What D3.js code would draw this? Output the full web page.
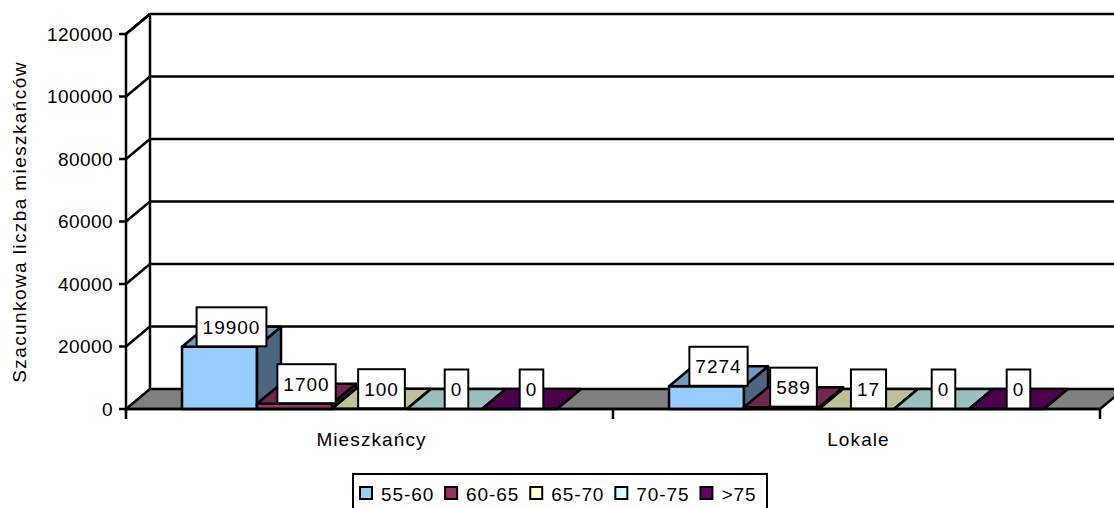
<!DOCTYPE html>
<html><head><meta charset="utf-8">
<script src="https://cdn.jsdelivr.net/npm/d3@7"></script>
<style>
html,body{margin:0;padding:0;background:#fff;}
svg{display:block;font-family:"Liberation Sans",Arial,sans-serif;}
</style></head>
<body><svg id="c" width="1114" height="508"></svg>
<script>
const categories = ["Mieszkańcy", "Lokale"];
const seriesNames = ["55-60", "60-65", "65-70", "70-75", ">75"];
const seriesColors = ["#99CCFF", "#993366", "#FFFFCC", "#CCFFFF", "#660066"];
const valuesMieszkancy = [19900, 1700, 100, 0, 0];
const valuesLokale = [7274, 589, 17, 0, 0];
const yTicks = [0, 20000, 40000, 60000, 80000, 100000, 120000];
const yTitle = "Szacunkowa liczba mieszkańców";

const values = [valuesMieszkancy, valuesLokale];
const svg = d3.select("#c");
const DX = 24, DY = -20;
const FS = 19;
const y = d3.scaleLinear().domain([0, 120000]).range([409, 34]);
const x = d3.scaleBand().domain(categories).range([126, 1100]).paddingInner(0).paddingOuter(0);
const xs = d3.scaleBand().domain(seriesNames).range([0, x.bandwidth()]).paddingInner(0).paddingOuter(0.747);
const y0 = y(0);
const SW = 2.5;

function shade(c, k) { const r = d3.rgb(c); return d3.rgb(r.r * k, r.g * k, r.b * k).toString(); }

// back wall gridlines
const g = svg.append("g");
yTicks.forEach(v => {
  if (v === 0) return;
  g.append("line").attr("x1", 126 + DX).attr("x2", 1200).attr("y1", y(v) + DY).attr("y2", y(v) + DY)
    .attr("stroke", "#000").attr("stroke-width", SW);
  g.append("line").attr("x1", 126).attr("x2", 126 + DX).attr("y1", y(v)).attr("y2", y(v) + DY)
    .attr("stroke", "#000").attr("stroke-width", SW);
});
// back wall vertical
g.append("line").attr("x1", 126 + DX).attr("x2", 126 + DX).attr("y1", y(120000) + DY).attr("y2", y0 + DY)
  .attr("stroke", "#000").attr("stroke-width", SW);

// floor
const xEnd = x.range()[1];
g.append("polygon").attr("points", [[126, y0], [xEnd, y0], [xEnd + DX, y0 + DY], [126 + DX, y0 + DY]].map(p => p.join(",")).join(" "))
  .attr("fill", "#808080").attr("stroke", "#000").attr("stroke-width", SW).attr("stroke-linejoin", "round");

// bars
const bars = svg.append("g");
const labels = [];
categories.forEach((c, ci) => {
  seriesNames.forEach((s, si) => {
    const v = values[ci][si];
    const x0 = x(c) + xs(s), w = xs.bandwidth(), yt = y(v);
    const col = seriesColors[si];
    const bg = bars.append("g").attr("stroke", "#000").attr("stroke-width", SW).attr("stroke-linejoin", "round");
    if (y0 - yt > 0.5) {
      bg.append("rect").attr("x", x0).attr("y", yt).attr("width", w).attr("height", y0 - yt).attr("fill", col);
      bg.append("polygon").attr("points", [[x0 + w, yt], [x0 + w, y0], [x0 + w + DX, y0 + DY], [x0 + w + DX, yt + DY]].map(p => p.join(",")).join(" "))
        .attr("fill", shade(col, 0.5));
    }
    bg.append("polygon").attr("points", [[x0, yt], [x0 + w, yt], [x0 + w + DX, yt + DY], [x0 + DX, yt + DY]].map(p => p.join(",")).join(" "))
      .attr("fill", shade(col, 0.75));
    labels.push({ v, cx: x0 + w / 2 + DX / 2, cy: yt + DY / 2 - 10 });
  });
});

// front axis
const ax = svg.append("g");
ax.append("line").attr("x1", 126).attr("x2", 126).attr("y1", y(120000)).attr("y2", y0 + 4).attr("stroke", "#000").attr("stroke-width", SW);
ax.append("line").attr("x1", 126).attr("x2", xEnd).attr("y1", y0).attr("y2", y0).attr("stroke", "#000").attr("stroke-width", SW);
ax.append("line").attr("x1", 126).attr("x2", 126 + DX).attr("y1", y(120000)).attr("y2", y(120000) + DY).attr("stroke", "#000").attr("stroke-width", SW);
yTicks.forEach(v => {
  ax.append("line").attr("x1", 119).attr("x2", 126).attr("y1", y(v)).attr("y2", y(v)).attr("stroke", "#000").attr("stroke-width", SW);
  ax.append("text").attr("x", 113).attr("y", y(v)).attr("dy", "0.36em").attr("text-anchor", "end")
    .attr("font-size", FS).attr("letter-spacing", 0.45).text(v);
});
// category ticks
[126, x("Lokale"), xEnd].forEach(px => {
  ax.append("line").attr("x1", px).attr("x2", px).attr("y1", y0).attr("y2", y0 + 10).attr("stroke", "#000").attr("stroke-width", SW);
});
categories.forEach(c => {
  ax.append("text").attr("x", x(c) + x.bandwidth() / 2 + 2).attr("y", 446).attr("text-anchor", "middle")
    .attr("font-size", FS).attr("letter-spacing", 1.1).text(c);
});
// y title
ax.append("text").attr("transform", "translate(26,222) rotate(-90)").attr("text-anchor", "middle")
  .attr("font-size", FS).attr("letter-spacing", 1.4).text(yTitle);

// value labels
const lg = svg.append("g");
labels.forEach(l => {
  const t = lg.append("text").attr("x", l.cx).attr("y", l.cy).attr("dy", "0.36em").attr("text-anchor", "middle")
    .attr("font-size", FS).attr("letter-spacing", 1).text(l.v);
  const bw = t.node().getComputedTextLength() + 12;
  lg.insert("rect", () => t.node()).attr("x", l.cx - bw / 2).attr("y", l.cy - 19.5).attr("width", bw).attr("height", 39)
    .attr("fill", "#fff").attr("stroke", "#000").attr("stroke-width", 2);
});

// legend
const leg = svg.append("g");
leg.append("rect").attr("x", 353).attr("y", 474).attr("width", 414).attr("height", 50).attr("fill", "#fff").attr("stroke", "#000").attr("stroke-width", 2);
let lx = 360;
seriesNames.forEach((s, i) => {
  leg.append("rect").attr("x", lx).attr("y", 487).attr("width", 12).attr("height", 12).attr("fill", seriesColors[i])
    .attr("stroke", "#000").attr("stroke-width", 2);
  const t = leg.append("text").attr("x", lx + 21).attr("y", 500.5).attr("font-size", FS).attr("letter-spacing", 0.9).text(s);
  lx += 21 + t.node().getComputedTextLength() + 11;
});
</script></body></html>
